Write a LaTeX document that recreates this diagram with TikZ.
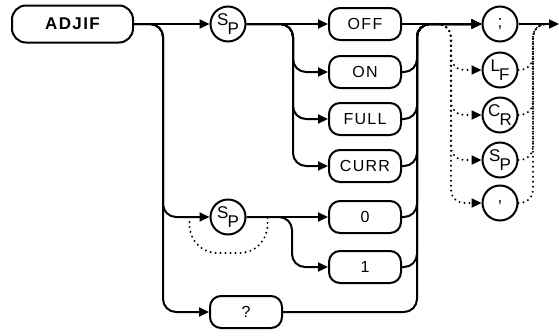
\documentclass[tikz,border=0pt]{standalone}
\usepackage{fontspec}
\setmainfont{Liberation Sans}
\newfontfamily\diagfont[LetterSpace=8]{Liberation Sans}
\newfontfamily\circfont{Liberation Sans}
\usetikzlibrary{arrows.meta,calc}
\newcommand\twoch[2]{\raisebox{4.5pt}{#1}\kern-1pt\raisebox{-5pt}{#2}}
\begin{document}
\begin{tikzpicture}[x=1pt,y=-1pt,
  every node/.style={font=\diagfont\fontsize{16}{16}\selectfont},
  kbox/.style={draw, line width=2pt, rounded corners=11pt, minimum width=72pt, minimum height=32pt, inner sep=0pt},
  kcirc/.style={draw, circle, line width=2pt, minimum size=35pt, inner sep=0pt, font=\circfont\fontsize{17}{17}\selectfont},
  conn/.style={line width=2pt, rounded corners=13pt},
  arr/.style={conn, -{Triangle[length=10pt,width=9pt]}},
  dots/.style={line width=2.2pt, line cap=round, dash pattern=on 0pt off 5pt, rounded corners=13pt},
  dotarr/.style={dots, -{Triangle[length=10pt,width=9pt]}},
]
\useasboundingbox (0,0) rectangle (559,335);
% nodes
\node[kbox, minimum width=121pt, minimum height=37pt, rounded corners=14pt,
      font=\diagfont\bfseries\fontsize{17}{17}\selectfont] (adjif) at (72.5,24) {ADJIF};
\node[kcirc] (sp1) at (228,24) {\twoch{S}{P}};
\node[kbox] (off)  at (365,24)  {OFF};
\node[kbox] (on)   at (365,72)  {ON};
\node[kbox] (full) at (365,119) {FULL};
\node[kbox] (curr) at (365,166) {CURR};
\node[kcirc] (sp2) at (228,217) {\twoch{S}{P}};
\node[kbox] (zero) at (365,217) {0};
\node[kbox] (one)  at (365,267) {1};
\node[kbox] (q)    at (246,312) {?};
\node[kcirc] (semi)  at (500,24)  {;};
\node[kcirc] (lf)    at (500,70)  {\twoch{L}{F}};
\node[kcirc] (cr)    at (500,115) {\twoch{C}{R}};
\node[kcirc] (spc)   at (500,160) {\twoch{S}{P}};
\node[kcirc] (comma) at (500,203) {,};
\coordinate (out) at (559,24);
\coordinate (dl) at (437,24);
\coordinate (dr) at (547,24);
% left part
\draw[arr] (adjif.east) -- (sp1.west);
\draw[arr] (adjif.east) -- (163,24) |- (sp2.west);
\draw[arr] (adjif.east) -- (163,24) |- (q.west);
% after first SP
\draw[arr] (sp1.east) -- (off.west);
\draw[arr] (sp1.east) -- (293,24) |- (on.west);
\draw[arr] (sp1.east) -- (293,24) |- (full.west);
\draw[arr] (sp1.east) -- (293,24) |- (curr.west);
% after second SP
\draw[arr] (sp2.east) -- (zero.west);
\draw[arr] (sp2.east) -- (292,217) |- (one.west);
\draw[dots, rounded corners=28pt] ($(sp2.west)+(-20,0)$) -- ++(0,36) -- ++(78,0) -- ++(0,-36);
% collector
\draw[arr] (off.east) -- (semi.west);
\draw[arr] (on.east)   -- (417,72)  |- (semi.west);
\draw[arr] (full.east) -- (417,119) |- (semi.west);
\draw[arr] (curr.east) -- (417,166) |- (semi.west);
\draw[arr] (zero.east) -- (417,217) |- (semi.west);
\draw[arr] (one.east)  -- (417,267) |- (semi.west);
\draw[arr] (q.east)    -- (417,312) |- (semi.west);
% terminators
\draw[arr] (semi.east) -- (out);
\draw[dotarr] (dl) -- (451,24) |- (lf.west);
\draw[dotarr] (dl) -- (451,24) |- (cr.west);
\draw[dotarr] (dl) -- (451,24) |- (spc.west);
\draw[dotarr] (dl) -- (451,24) |- (comma.west);
\draw[dots] (lf.east)    -- (533,70)  |- (dr);
\draw[dots] (cr.east)    -- (533,115) |- (dr);
\draw[dots] (spc.east)   -- (533,160) |- (dr);
\draw[dots] (comma.east) -- (533,203) |- (dr);
\end{tikzpicture}
\end{document}
